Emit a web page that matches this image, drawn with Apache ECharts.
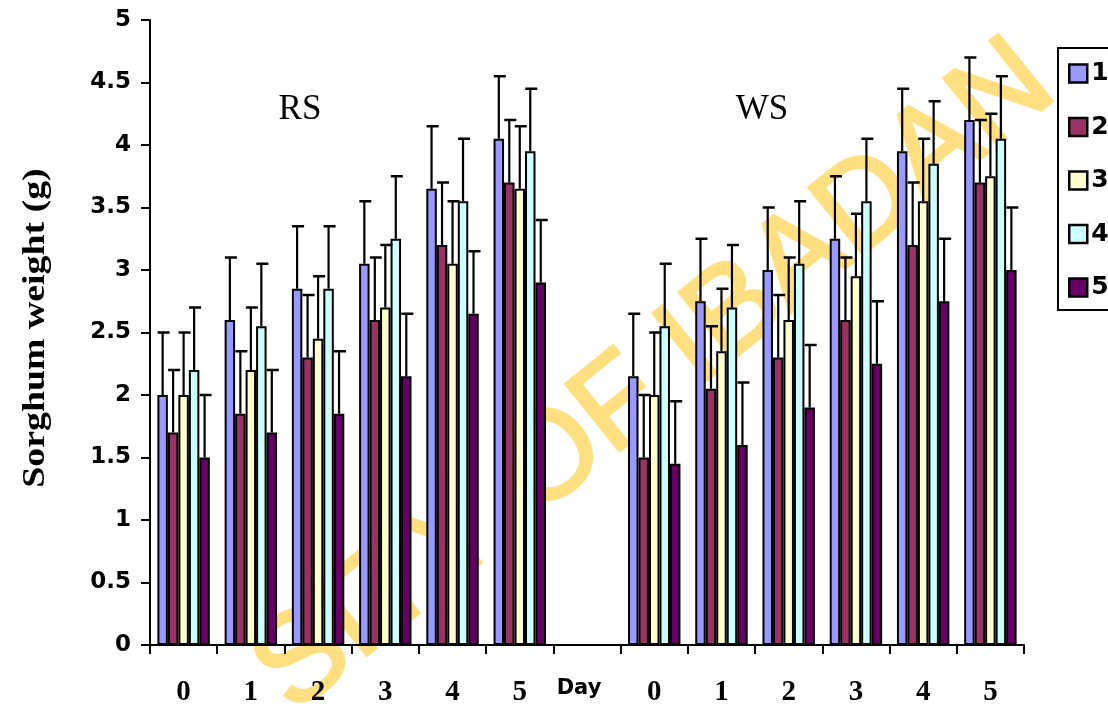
<!DOCTYPE html>
<html>
<head>
<meta charset="utf-8">
<script src="https://cdn.jsdelivr.net/npm/echarts@6/dist/echarts.min.js"></script>
<style>html,body{margin:0;padding:0;background:#fff;}#c{width:1108px;height:704px;}</style>
</head>
<body>
<div id="c"></div>
<script>
const categories = ['0','1','2','3','4','5','Day','0','1','2','3','4','5'];
const seriesNames = ['1','2','3','4','5'];
const v1 = [2.0, 2.6, 2.85, 3.05, 3.65, 4.05, null, 2.15, 2.75, 3.0, 3.25, 3.95, 4.2];
const v2 = [1.7, 1.85, 2.3, 2.6, 3.2, 3.7, null, 1.5, 2.05, 2.3, 2.6, 3.2, 3.7];
const v3 = [2.0, 2.2, 2.45, 2.7, 3.05, 3.65, null, 2.0, 2.35, 2.6, 2.95, 3.55, 3.75];
const v4 = [2.2, 2.55, 2.85, 3.25, 3.55, 3.95, null, 2.55, 2.7, 3.05, 3.55, 3.85, 4.05];
const v5 = [1.5, 1.7, 1.85, 2.15, 2.65, 2.9, null, 1.45, 1.6, 1.9, 2.25, 2.75, 3.0];
const e1 = [0.5, 0.5, 0.5, 0.5, 0.5, 0.5, null, 0.5, 0.5, 0.5, 0.5, 0.5, 0.5];
const e2 = [0.5, 0.5, 0.5, 0.5, 0.5, 0.5, null, 0.5, 0.5, 0.5, 0.5, 0.5, 0.5];
const e3 = [0.5, 0.5, 0.5, 0.5, 0.5, 0.5, null, 0.5, 0.5, 0.5, 0.5, 0.5, 0.5];
const e4 = [0.5, 0.5, 0.5, 0.5, 0.5, 0.5, null, 0.5, 0.5, 0.5, 0.5, 0.5, 0.5];
const e5 = [0.5, 0.5, 0.5, 0.5, 0.5, 0.5, null, 0.5, 0.5, 0.5, 0.5, 0.5, 0.5];
const yTicks = { min: 0, max: 5, interval: 0.5 };
const panelLabels = ['RS', 'WS'];
const watermarkText = 'SITY OF IBADAN';

const values = [v1, v2, v3, v4, v5];
const errors = [e1, e2, e3, e4, e5];
const colors = ['#9999FF', '#993366', '#FFFFCC', '#CCFFFF', '#660066'];
const CAT_GAP = 0.22;
const N = values.length;

const chart = echarts.init(document.getElementById('c'));

const series = [];
values.forEach((vals, i) => {
  series.push({
    name: seriesNames[i],
    type: 'bar',
    data: vals,
    barGap: '0%',
    barCategoryGap: (CAT_GAP * 100) + '%',
    itemStyle: { color: colors[i], borderColor: '#000', borderWidth: 2 },
    z: 2
  });
});
values.forEach((vals, i) => {
  const d = [];
  vals.forEach((v, k) => { if (v != null) d.push([k, v, errors[i][k]]); });
  series.push({
    type: 'custom',
    name: 'err' + i,
    data: d,
    z: 3,
    silent: true,
    renderItem: function (params, api) {
      const k = api.value(0), v = api.value(1), e = api.value(2);
      const base = api.coord([k, v]);
      const top = api.coord([k, v + e]);
      const band = api.size([1, 0])[0];
      const bw = band * (1 - CAT_GAP) / N;
      const x = base[0] - band * (1 - CAT_GAP) / 2 + bw * (i + 0.5);
      const cap = 12;
      return {
        type: 'group',
        children: [
          { type: 'line', shape: { x1: x, y1: base[1], x2: x, y2: top[1] }, style: { stroke: '#000', lineWidth: 2.2 } },
          { type: 'line', shape: { x1: x - cap / 2 + 1, y1: top[1], x2: x + cap / 2 + 1, y2: top[1] }, style: { stroke: '#000', lineWidth: 2.5 } }
        ]
      };
    }
  });
});

const catData = categories.map(c => c === 'Day'
  ? { value: c, textStyle: { fontFamily: 'DejaVu Sans', fontWeight: 'bold', fontSize: 21, padding: [0, 16, 6, 0] } }
  : c);

chart.setOption({
  animation: false,
  backgroundColor: '#fff',
  grid: { left: 150, right: 84, top: 20, bottom: 59, outerBoundsMode: 'none', containLabel: false },
  legend: {
    data: seriesNames,
    orient: 'vertical',
    left: 1058,
    top: 48,
    padding: [13, 40, 10, 10],
    itemWidth: 18,
    itemHeight: 18,
    itemGap: 28.5,
    borderColor: '#000',
    borderWidth: 2,
    icon: 'rect',
    itemStyle: { borderColor: '#000', borderWidth: 2.5 },
    textStyle: { fontFamily: 'DejaVu Sans', fontWeight: 'bold', fontSize: 25, color: '#000', lineHeight: 18, padding: [0, 0, 0, -1] }
  },
  xAxis: {
    type: 'category',
    data: catData,
    axisLine: { lineStyle: { color: '#000', width: 2 } },
    axisTick: { show: true, length: 9, lineStyle: { color: '#000', width: 2 } },
    axisLabel: {
      interval: 0,
      margin: 33,
      hideOverlap: false,
      fontFamily: 'Liberation Serif', fontWeight: 'bold', fontSize: 29, color: '#000'
    }
  },
  yAxis: {
    type: 'value',
    min: yTicks.min,
    max: yTicks.max,
    interval: yTicks.interval,
    splitLine: { show: false },
    axisLine: { show: true, lineStyle: { color: '#000', width: 2 } },
    axisTick: { show: true, length: 9, lineStyle: { color: '#000', width: 2 } },
    axisLabel: { margin: 19, fontFamily: 'DejaVu Sans', fontWeight: 'bold', fontSize: 23, color: '#000' }
  },
  graphic: [
    {
      type: 'text', z: -10, silent: true,
      x: 655, y: 378, rotation: 0.68,
      style: { text: watermarkText, fill: '#FFDF80', stroke: '#FFDF80', lineWidth: 3,
        font: '125px "Liberation Sans"', align: 'center', verticalAlign: 'middle' }
    },
    {
      type: 'text', x: 36, y: 328, rotation: Math.PI / 2, scaleX: 1.22,
      style: { text: 'Sorghum weight (g)', fill: '#000', font: 'bold 31px "Liberation Serif"', align: 'center', verticalAlign: 'middle' }
    },
    {
      type: 'text', x: 300, y: 110,
      style: { text: panelLabels[0], fill: '#000', font: '35px "Liberation Serif"', align: 'center', verticalAlign: 'middle' }
    },
    {
      type: 'text', x: 762, y: 110,
      style: { text: panelLabels[1], fill: '#000', font: '35px "Liberation Serif"', align: 'center', verticalAlign: 'middle' }
    }
  ],
  series: series
});
</script>
</body>
</html>
